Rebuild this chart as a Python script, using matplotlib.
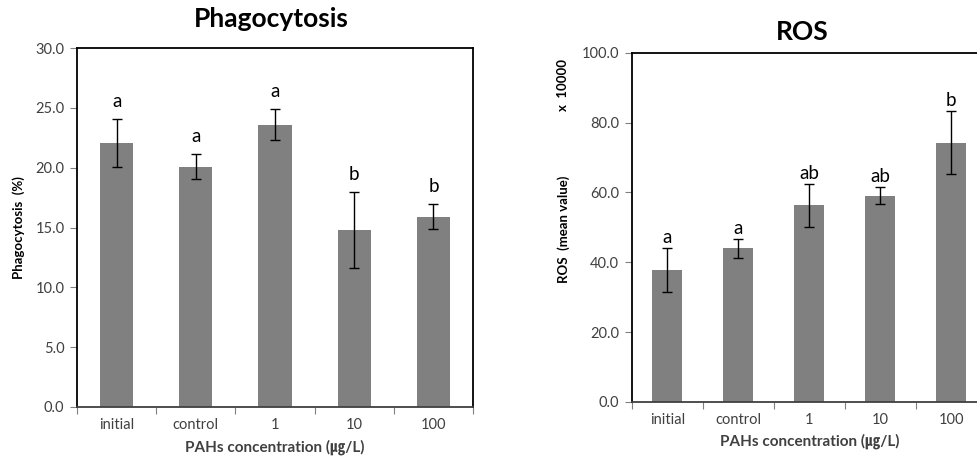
import numpy as np
import matplotlib
matplotlib.use("Agg")
from matplotlib import pyplot as plt

plt.rcParams['font.family'] = ['Lato', 'Noto Sans CJK KR', 'DejaVu Sans']

categories = ["initial", "control", "1", "10", "100"]

phago_mean = [22.1, 20.1, 23.6, 14.8, 15.9]
phago_err = [2.0, 1.05, 1.3, 3.2, 1.05]
phago_sig = ["a", "a", "a", "b", "b"]

ros_mean = [37.8, 44.0, 56.3, 59.1, 74.3]
ros_err = [6.2, 2.7, 6.1, 2.4, 9.1]
ros_sig = ["a", "a", "ab", "ab", "b"]

xlabel = "PAHs concentration (\u338d/L)"
bar_color = "#808080"
tick_color = "#404040"


def draw_panel(ax, means, errs, sig, ymax, ystep, title, ylabel, tpad, sig_gap):
    x = np.arange(len(categories))
    ax.bar(x, means, width=0.42, color=bar_color, zorder=2)
    ax.errorbar(x, means, yerr=errs, fmt="none", ecolor="black",
                elinewidth=1.0, capsize=3.5, capthick=1.0, zorder=3)
    for xi, m, e, s in zip(x, means, errs, sig):
        ax.text(xi, m + e + ymax * sig_gap, s, ha="center", va="bottom",
                fontsize=13.5, color="black")
    ax.set_xlim(-0.5, len(categories) - 0.5)
    ax.set_ylim(0, ymax)
    yt = np.arange(0, ymax + ystep / 2, ystep)
    ax.set_yticks(yt)
    ax.set_yticklabels([f"{v:.1f}" for v in yt], fontsize=10.5, color=tick_color)
    # category boundaries carry the tick marks, labels sit at centres
    ax.set_xticks(np.arange(-0.5, len(categories), 1.0))
    ax.set_xticklabels([])
    ax.set_xticks(x, minor=True)
    ax.set_xticklabels(categories, minor=True, fontsize=10.5, color=tick_color)
    ax.tick_params(axis="x", which="major", length=5, color="#808080", direction="out")
    ax.tick_params(axis="x", which="minor", length=0, pad=8)
    ax.tick_params(axis="y", length=5, color="#808080", direction="out", pad=4)
    for sp in ax.spines.values():
        sp.set_linewidth(1.3)
        sp.set_color("black")
    ax.spines["bottom"].set_color("#404040")
    ax.set_xlabel(xlabel, fontsize=11, fontweight="bold", color=tick_color, labelpad=5)
    ax.set_title(title, fontsize=19, fontweight="bold", pad=tpad)
    ax.set_ylabel(ylabel, fontsize=9.5, fontweight="bold")


fig = plt.figure(figsize=(9.78, 4.63), dpi=100)

ax1 = fig.add_axes([0.0787, 0.121, 0.405, 0.775])
draw_panel(ax1, phago_mean, phago_err, phago_sig, 30, 5,
           "Phagocytosis", "Phagocytosis  (%)", 15, 0.025)
ax1.yaxis.set_label_coords(-0.131, 0.499)
ax1.title.set_position((0.49, 1.0))

ax2 = fig.add_axes([0.646, 0.132, 0.363, 0.754])
draw_panel(ax2, ros_mean, ros_err, ros_sig, 100, 20,
           "ROS", "ROS  (mean value)", 9, 0.006)
ax2.yaxis.set_label_coords(-0.175, 0.493)
ax2.title.set_position((0.48, 1.0))
ax2.text(-0.194, 0.908, "x  10000", rotation=90, transform=ax2.transAxes,
         ha="center", va="center", fontsize=9.5, fontweight="bold")

fig.savefig("out.png", dpi=100)
